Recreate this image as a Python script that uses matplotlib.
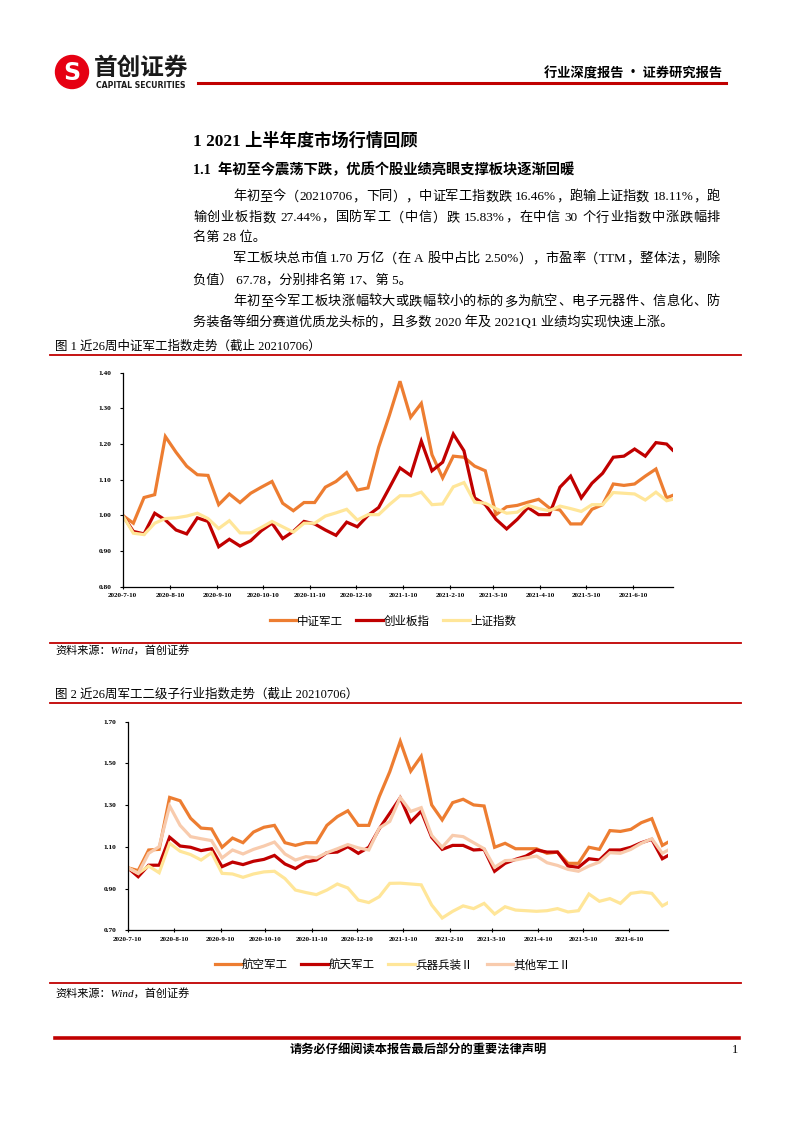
import re
import numpy as np
import pandas as pd
import matplotlib
matplotlib.use("Agg")
import matplotlib.pyplot as plt
from matplotlib.patches import Circle
from matplotlib.lines import Line2D

# weekly dates, last point is 2021-07-06
dates = list(pd.date_range("2020-07-10", periods=52, freq="7D")) + [pd.Timestamp("2021-07-06")]
tick_dates = pd.to_datetime(["2020-07-10", "2020-08-10", "2020-09-10", "2020-10-10", "2020-11-10",
                             "2020-12-10", "2021-01-10", "2021-02-10", "2021-03-10", "2021-04-10",
                             "2021-05-10", "2021-06-10"])
tick_labels = ["2020-7-10", "2020-8-10", "2020-9-10", "2020-10-10", "2020-11-10", "2020-12-10",
               "2021-1-10", "2021-2-10", "2021-3-10", "2021-4-10", "2021-5-10", "2021-6-10"]

# fig 1
zzjg = [1.000, 0.978, 1.050, 1.058, 1.221, 1.177, 1.138, 1.114, 1.112, 1.030,
        1.060, 1.036, 1.062, 1.079, 1.095, 1.034, 1.013, 1.036, 1.036, 1.079,
        1.095, 1.120, 1.071, 1.077, 1.191, 1.280, 1.376, 1.275, 1.314, 1.170,
        1.105, 1.166, 1.163, 1.138, 1.125, 1.002, 1.024, 1.028, 1.037, 1.045,
        1.021, 1.015, 0.976, 0.976, 1.017, 1.030, 1.088, 1.084, 1.088, 1.110,
        1.130, 1.049, 1.056]
cybz = [1.000, 0.955, 0.948, 1.006, 0.987, 0.959, 0.948, 0.993, 0.983, 0.912,
        0.933, 0.914, 0.929, 0.957, 0.978, 0.935, 0.955, 0.983, 0.976, 0.959,
        0.944, 0.981, 0.968, 1.000, 1.022, 1.077, 1.133, 1.112, 1.208, 1.125,
        1.149, 1.228, 1.181, 1.049, 1.030, 0.989, 0.962, 0.989, 1.022, 1.002,
        1.002, 1.079, 1.110, 1.049, 1.090, 1.118, 1.163, 1.166, 1.186, 1.166,
        1.204, 1.200, 1.183]
szzs = [1.000, 0.950, 0.946, 0.978, 0.991, 0.993, 0.998, 1.006, 0.991, 0.963,
        0.985, 0.951, 0.951, 0.966, 0.983, 0.968, 0.953, 0.978, 0.978, 0.998,
        1.007, 1.017, 0.987, 1.002, 1.002, 1.030, 1.055, 1.055, 1.065, 1.030,
        1.032, 1.080, 1.092, 1.037, 1.034, 1.019, 1.006, 1.009, 1.028, 1.019,
        1.013, 1.026, 1.019, 1.011, 1.030, 1.030, 1.064, 1.062, 1.060, 1.043,
        1.065, 1.041, 1.045]
names1 = ["中证军工", "创业板指", "上证指数"]

# fig 2
hkjg = [1.000, 0.986, 1.085, 1.088, 1.337, 1.321, 1.237, 1.190, 1.186, 1.098,
        1.142, 1.120, 1.171, 1.194, 1.203, 1.120, 1.107, 1.120, 1.120, 1.203,
        1.245, 1.273, 1.203, 1.203, 1.341, 1.460, 1.606, 1.463, 1.534, 1.301,
        1.229, 1.312, 1.328, 1.301, 1.296, 1.098, 1.117, 1.091, 1.091, 1.091,
        1.069, 1.075, 1.021, 1.021, 1.098, 1.088, 1.178, 1.174, 1.184, 1.216,
        1.235, 1.107, 1.123]
htjg = [1.000, 0.957, 1.012, 1.012, 1.146, 1.104, 1.098, 1.082, 1.091, 1.005,
        1.027, 1.015, 1.031, 1.040, 1.059, 1.018, 0.996, 1.027, 1.037, 1.072,
        1.075, 1.101, 1.069, 1.098, 1.187, 1.261, 1.335, 1.220, 1.271, 1.146,
        1.088, 1.107, 1.107, 1.085, 1.088, 0.983, 1.021, 1.040, 1.056, 1.085,
        1.075, 1.075, 1.008, 1.002, 1.043, 1.037, 1.085, 1.085, 1.098, 1.120,
        1.136, 1.043, 1.059]
bqbz = [1.000, 0.973, 1.008, 0.976, 1.117, 1.079, 1.063, 1.037, 1.072, 0.973,
        0.970, 0.954, 0.970, 0.980, 0.983, 0.948, 0.893, 0.881, 0.871, 0.893,
        0.922, 0.903, 0.845, 0.833, 0.861, 0.925, 0.926, 0.922, 0.918, 0.821,
        0.759, 0.791, 0.817, 0.804, 0.829, 0.778, 0.813, 0.797, 0.794, 0.791,
        0.794, 0.804, 0.788, 0.794, 0.874, 0.839, 0.852, 0.829, 0.877, 0.884,
        0.877, 0.817, 0.833]
qtjg = [1.000, 0.973, 1.069, 1.101, 1.296, 1.203, 1.149, 1.139, 1.130, 1.047,
        1.085, 1.066, 1.088, 1.104, 1.123, 1.066, 1.037, 1.053, 1.047, 1.072,
        1.091, 1.111, 1.095, 1.085, 1.190, 1.222, 1.337, 1.270, 1.288, 1.155,
        1.098, 1.155, 1.149, 1.120, 1.091, 1.002, 1.034, 1.037, 1.047, 1.056,
        1.024, 1.011, 0.992, 0.983, 1.008, 1.027, 1.072, 1.069, 1.088, 1.117,
        1.139, 1.069, 1.085]
names2 = ["航空军工", "航天军工", "兵器兵装Ⅱ", "其他军工Ⅱ"]

ORANGE, RED, YELLOW, PINK = "#ED7D31", "#C00000", "#FFE699", "#F8CBAD"
CJK = "Noto Sans CJK SC"
MIX = ["Liberation Serif", "Noto Sans CJK SC"]

W, H = 793, 1122
fig = plt.figure(figsize=(7.93, 11.22), dpi=100)
renderer = fig.canvas.get_renderer()


def fx(x):
    return x / W


def fy(y):
    return 1 - y / H


def txt(x, y, s, size, family=MIX, weight="normal", ha="left", va="center", **kw):
    return fig.text(fx(x), fy(y), s, fontsize=size, family=family, fontweight=weight,
                    ha=ha, va=va, **kw)


def hline(y, x0, x1, lw=1.3, color="#C00000"):
    fig.add_artist(Line2D([fx(x0), fx(x1)], [fy(y), fy(y)], transform=fig.transFigure,
                          color=color, lw=lw))


def justify(y, x0, x1, s, size):
    tokens = re.findall(r"[A-Za-z0-9.%]+| |.", s)
    arts, widths = [], []
    for t in tokens:
        if t == " ":
            arts.append(None)
            widths.append(size * 100 / 72 * 0.25)
        else:
            a = txt(x0, y, t, size)
            arts.append(a)
            widths.append(a.get_window_extent(renderer).width)
    gap = (x1 - x0 - sum(widths)) / (len(tokens) - 1)
    x = x0
    for a, w in zip(arts, widths):
        if a is not None:
            a.set_x(fx(x))
        x += w + gap


# header
fig.patches.append(Circle((0.72, (H - 72) / 100), 0.165, transform=fig.dpi_scale_trans,
                          color="#E60012", zorder=5))
fig.text(0.72, (H - 73) / 100, "S", transform=fig.dpi_scale_trans, fontsize=17,
         fontweight="bold", color="white", ha="center", va="center", family="DejaVu Sans",
         zorder=6)
txt(94, 68, "首创证券", 17, family=CJK, weight="bold", color="#1a1a1a")
txt(96, 85, "CAPITAL SECURITIES", 5.6, family="DejaVu Sans", weight="bold", color="#1a1a1a")
hline(83, 198, 726, lw=2.2)
txt(722, 73, "行业深度报告 · 证券研究报告", 9.5, family=CJK, weight="bold", ha="right")

# section text
txt(193, 141, "1 2021 上半年度市场行情回顾", 12.4, weight="bold")
txt(193, 170, "1.1  年初至今震荡下跌，优质个股业绩亮眼支撑板块逐渐回暖", 10.3, weight="bold")

BODY = 9.5
justify(197, 233, 720, "年初至今（20210706，下同），中证军工指数跌 16.46%，跑输上证指数 18.11%，跑", BODY)
justify(218, 193, 720, "输创业板指数 27.44%，国防军工（中信）跌 15.83%，在中信 30 个行业指数中涨跌幅排", BODY)
txt(193, 238, "名第 28 位。", BODY)
justify(259, 233, 720, "军工板块总市值 1.70 万亿（在 A 股中占比 2.50%），市盈率（TTM，整体法，剔除", BODY)
txt(193, 280, "负值） 67.78，分别排名第 17、第 5。", BODY)
justify(302, 233, 720, "年初至今军工板块涨幅较大或跌幅较小的标的多为航空、电子元器件、信息化、防", BODY)
txt(193, 322, "务装备等细分赛道优质龙头标的，且多数 2020 年及 2021Q1 业绩均实现快速上涨。", BODY)


def style_axes(ax, ylo, yhi, ystep):
    ax.set_xlim(dates[0], dates[-1])
    ax.set_ylim(ylo, yhi)
    ax.set_yticks(np.arange(ylo, yhi + ystep / 2, ystep))
    ax.set_yticklabels(["%.2f" % v for v in np.arange(ylo, yhi + ystep / 2, ystep)])
    ax.set_xticks(tick_dates)
    ax.set_xticklabels(tick_labels)
    for s in ["top", "right"]:
        ax.spines[s].set_visible(False)
    for s in ["left", "bottom"]:
        ax.spines[s].set_linewidth(0.9)
    ax.tick_params(axis="y", direction="out", length=2, width=0.8, pad=6)
    ax.tick_params(axis="x", direction="inout", length=3, width=0.8, pad=3)
    for lab in ax.get_yticklabels():
        lab.set_fontsize(5.3)
        lab.set_family("Liberation Serif")
        lab.set_fontweight("bold")
    for lab in ax.get_xticklabels():
        lab.set_fontsize(5)
        lab.set_family("Liberation Serif")
        lab.set_fontweight("bold")
    ax.patch.set_alpha(0)


# figure 1
txt(55, 347, "图 1 近26周中证军工指数走势（截止 20210706）", 9)
hline(355, 50, 741)
ax1 = fig.add_axes([fx(122.7), fy(586.7), (672.7 - 122.7) / W, (586.7 - 372.7) / H])
for ys, c, n in zip([zzjg, cybz, szzs], [ORANGE, RED, YELLOW], names1):
    ax1.plot(dates, ys, color=c, lw=2.3, label=n, solid_joinstyle="miter")
style_axes(ax1, 0.80, 1.40, 0.10)
ax1.legend(loc="center", bbox_to_anchor=(fx(393), fy(621)), bbox_transform=fig.transFigure,
           ncol=3, frameon=False, prop={"family": CJK, "size": 8.3}, handlelength=2.3,
           handletextpad=0.05, columnspacing=1.2)
hline(643, 50, 741)
txt(55, 650, "资料来源：Wind，首创证券", 8, style="italic")

# figure 2
txt(55, 695, "图 2 近26周军工二级子行业指数走势（截止 20210706）", 9)
hline(703, 50, 741)
ax2 = fig.add_axes([fx(127.7), fy(930.3), (668.3 - 127.7) / W, (930.3 - 721.7) / H])
for ys, c, n in zip([hkjg, htjg, bqbz, qtjg], [ORANGE, RED, YELLOW, PINK], names2):
    ax2.plot(dates, ys, color=c, lw=2.3, label=n, solid_joinstyle="miter")
style_axes(ax2, 0.70, 1.70, 0.20)
ax2.legend(loc="center", bbox_to_anchor=(fx(393), fy(965)), bbox_transform=fig.transFigure,
           ncol=4, frameon=False, prop={"family": CJK, "size": 8.3}, handlelength=2.3,
           handletextpad=0.05, columnspacing=1.2)
hline(983, 50, 741)
txt(55, 993, "资料来源：Wind，首创证券", 8, style="italic")

# footer
hline(1038, 55, 739, lw=2.6)
txt(418, 1050, "请务必仔细阅读本报告最后部分的重要法律声明", 8.8, family=CJK, weight="bold", ha="center")
txt(735, 1050, "1", 9, family="Liberation Serif", ha="center")

fig.savefig("out.png", dpi=100)
